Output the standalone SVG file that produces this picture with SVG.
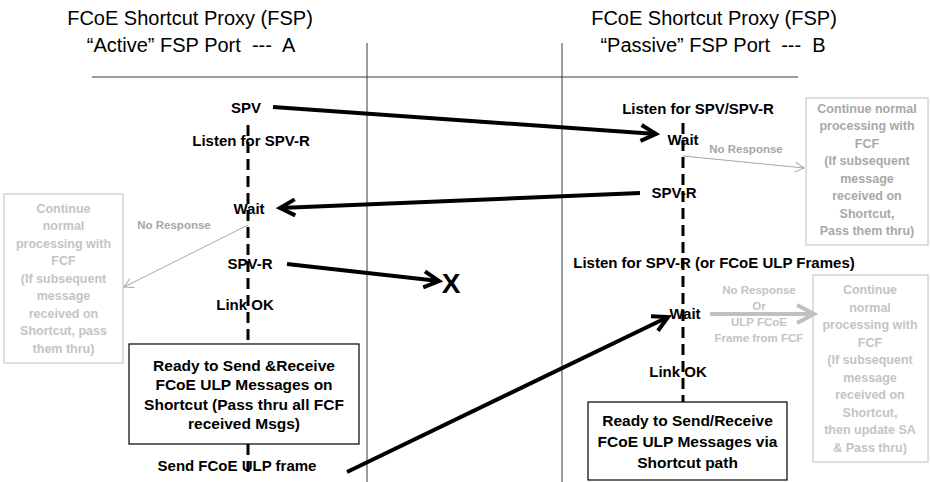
<svg xmlns="http://www.w3.org/2000/svg" width="930" height="482" viewBox="0 0 930 482">
  <style>
    .hdr { font-family: "Liberation Sans", Arial, sans-serif; font-size: 20px; fill: #000; text-anchor: middle; }
    .lbl { font-family: "Liberation Sans", Arial, sans-serif; font-size: 15px; font-weight: bold; fill: #000; text-anchor: middle; }
    .box { font-family: "Liberation Sans", Arial, sans-serif; font-size: 15.5px; font-weight: bold; fill: #000; text-anchor: middle; }
    .note { font-family: "Liberation Sans", Arial, sans-serif; font-size: 11.5px; font-weight: bold; text-anchor: middle; }
    .gbox { font-family: "Liberation Sans", Arial, sans-serif; font-size: 12.5px; font-weight: bold; text-anchor: middle; }
    .grid { stroke: #3a3a3a; stroke-width: 1; fill: none; }
    .life { stroke: #000; stroke-width: 3; stroke-dasharray: 11 6; fill: none; }
    .msg { stroke: #000; stroke-width: 4; fill: none; }
    .thin { stroke: #a6a6a6; stroke-width: 1; fill: none; }
    .thick { stroke: #c0c0c0; stroke-width: 4; fill: none; }
    .frame { fill: #fff; stroke: #000; stroke-width: 1.2; }
    .gframe { fill: #fff; stroke: #d4d4d4; stroke-width: 1.5; }
  </style>
  <defs>
    <marker id="headBlack" markerUnits="userSpaceOnUse" viewBox="-20 -12 24 24" markerWidth="24" markerHeight="24" refX="0" refY="0" orient="auto">
      <path d="M-15,-8 L0,0 L-15,8" fill="none" stroke="#000" stroke-width="4" stroke-linejoin="miter"/>
    </marker>
    <marker id="headThin" markerUnits="userSpaceOnUse" viewBox="-12 -8 14 16" markerWidth="14" markerHeight="16" refX="0" refY="0" orient="auto">
      <path d="M-9,-5 L0,0 L-9,5" fill="none" stroke="#a6a6a6" stroke-width="1"/>
    </marker>
    <marker id="headThick" markerUnits="userSpaceOnUse" viewBox="-22 -12 26 24" markerWidth="26" markerHeight="24" refX="0" refY="0" orient="auto">
      <path d="M-17,-9 L0,0 L-17,9" fill="none" stroke="#c0c0c0" stroke-width="4"/>
    </marker>
  </defs>

  <rect width="930" height="482" fill="#fff"/>

  <!-- column frame -->
  <g id="grid">
    <line class="grid" x1="367" y1="43" x2="367" y2="482"/>
    <line class="grid" x1="562" y1="43" x2="562" y2="482"/>
    <line class="grid" x1="92" y1="77" x2="798" y2="77"/>
  </g>

  <!-- headers -->
  <g id="header-a">
    <text class="hdr" x="190" y="25">FCoE Shortcut Proxy (FSP)</text>
    <text class="hdr" x="191" y="52" xml:space="preserve">“Active” FSP Port  ---  A</text>
  </g>
  <g id="header-b">
    <text class="hdr" x="714" y="25">FCoE Shortcut Proxy (FSP)</text>
    <text class="hdr" x="713" y="52" xml:space="preserve">“Passive” FSP Port  ---  B</text>
  </g>

  <!-- lifelines -->
  <g id="lifelines">
    <line class="life" x1="248" y1="125" x2="248" y2="344"/>
    <line class="life" x1="248" y1="444" x2="248" y2="472"/>
    <line class="life" x1="683" y1="123" x2="683" y2="402"/>
  </g>

  <!-- port A states -->
  <g id="a-spv"><text class="lbl" x="246" y="113">SPV</text></g>
  <g id="a-listen"><text class="lbl" x="251" y="146">Listen for SPV-R</text></g>
  <g id="a-wait"><text class="lbl" x="249" y="214">Wait</text></g>
  <g id="a-no-response"><text class="note" x="174" y="229" fill="#a6a6a6">No Response</text></g>
  <g id="a-spvr"><text class="lbl" x="250" y="269">SPV-R</text></g>
  <g id="a-link-ok"><text class="lbl" x="245" y="310">Link OK</text></g>
  <g id="a-ready">
    <rect class="frame" x="129" y="344" width="230" height="100"/>
    <text class="box" x="244" y="370.5">Ready to Send &amp;Receive</text>
    <text class="box" x="244" y="390">FCoE ULP Messages on</text>
    <text class="box" x="244" y="409.5">Shortcut (Pass thru all FCF</text>
    <text class="box" x="244" y="429">received Msgs)</text>
  </g>
  <g id="a-send"><text class="lbl" x="237" y="471">Send FCoE ULP frame</text></g>
  <g id="a-fallback">
    <rect class="gframe" x="4" y="194" width="119" height="169"/>
    <g class="gbox" fill="#c4c4c4">
      <text x="63.5" y="212.5">Continue</text>
      <text x="63.5" y="230">normal</text>
      <text x="63.5" y="247.5">processing with</text>
      <text x="63.5" y="265">FCF</text>
      <text x="63.5" y="282.5">(If subsequent</text>
      <text x="63.5" y="300">message</text>
      <text x="63.5" y="317.5">received on</text>
      <text x="63.5" y="335">Shortcut, pass</text>
      <text x="63.5" y="352.5">them thru)</text>
    </g>
  </g>
  <g id="lost"><text class="lbl" x="451" y="293" style="font-size:28px">X</text></g>

  <!-- port B states -->
  <g id="b-listen"><text class="lbl" x="698" y="114">Listen for SPV/SPV-R</text></g>
  <g id="b-wait"><text class="lbl" x="683" y="145">Wait</text></g>
  <g id="b-no-response"><text class="note" x="746" y="153" fill="#a6a6a6">No Response</text></g>
  <g id="b-fallback">
    <rect class="gframe" x="806" y="98" width="122" height="147"/>
    <g class="gbox" fill="#a8a8a8">
      <text x="867" y="112.5">Continue normal</text>
      <text x="867" y="130">processing with</text>
      <text x="867" y="147.5">FCF</text>
      <text x="867" y="165">(If subsequent</text>
      <text x="867" y="182.5">message</text>
      <text x="867" y="200">received on</text>
      <text x="867" y="217.5">Shortcut,</text>
      <text x="867" y="235">Pass them thru)</text>
    </g>
  </g>
  <g id="b-spvr"><text class="lbl" x="674" y="198">SPV-R</text></g>
  <g id="b-listen2"><text class="lbl" x="714" y="268">Listen for SPV-R (or FCoE ULP Frames)</text></g>
  <g id="b-wait2"><text class="lbl" x="685" y="319">Wait</text></g>
  <g id="b-timeout">
    <g class="note" fill="#c4c4c4">
      <text x="759" y="294">No Response</text>
      <text x="759" y="310">Or</text>
      <text x="759" y="326">ULP FCoE</text>
      <text x="759" y="342">Frame from FCF</text>
    </g>
  </g>
  <g id="b-fallback2">
    <rect class="gframe" x="813" y="275" width="115" height="187"/>
    <g class="gbox" fill="#c4c4c4">
      <text x="870" y="294">Continue</text>
      <text x="870" y="311.5">normal</text>
      <text x="870" y="329">processing with</text>
      <text x="870" y="346.5">FCF</text>
      <text x="870" y="364">(If subsequent</text>
      <text x="870" y="381.5">message</text>
      <text x="870" y="399">received on</text>
      <text x="870" y="416.5">Shortcut,</text>
      <text x="870" y="434">then update SA</text>
      <text x="870" y="451.5">&amp; Pass thru)</text>
    </g>
  </g>
  <g id="b-link-ok"><text class="lbl" x="678" y="377">Link OK</text></g>
  <g id="b-ready">
    <rect class="frame" x="588" y="402" width="199" height="78"/>
    <text class="box" x="687.5" y="425.5">Ready to Send/Receive</text>
    <text class="box" x="687.5" y="446.5">FCoE ULP Messages via</text>
    <text class="box" x="687.5" y="467.5">Shortcut path</text>
  </g>

  <!-- messages -->
  <g id="connectors">
    <line class="msg" x1="273" y1="107" x2="656" y2="134" marker-end="url(#headBlack)"/>
    <line class="msg" x1="640" y1="193" x2="280" y2="208" marker-end="url(#headBlack)"/>
    <line class="msg" x1="287" y1="264" x2="439" y2="281" marker-end="url(#headBlack)"/>
    <line class="msg" x1="347" y1="472" x2="668" y2="317" marker-end="url(#headBlack)"/>
    <line class="thin" x1="248" y1="225" x2="124" y2="287" marker-end="url(#headThin)"/>
    <line class="thin" x1="683" y1="156" x2="804" y2="168" marker-end="url(#headThin)"/>
    <line class="thick" x1="710" y1="314" x2="814" y2="314" marker-end="url(#headThick)"/>
  </g>
</svg>
